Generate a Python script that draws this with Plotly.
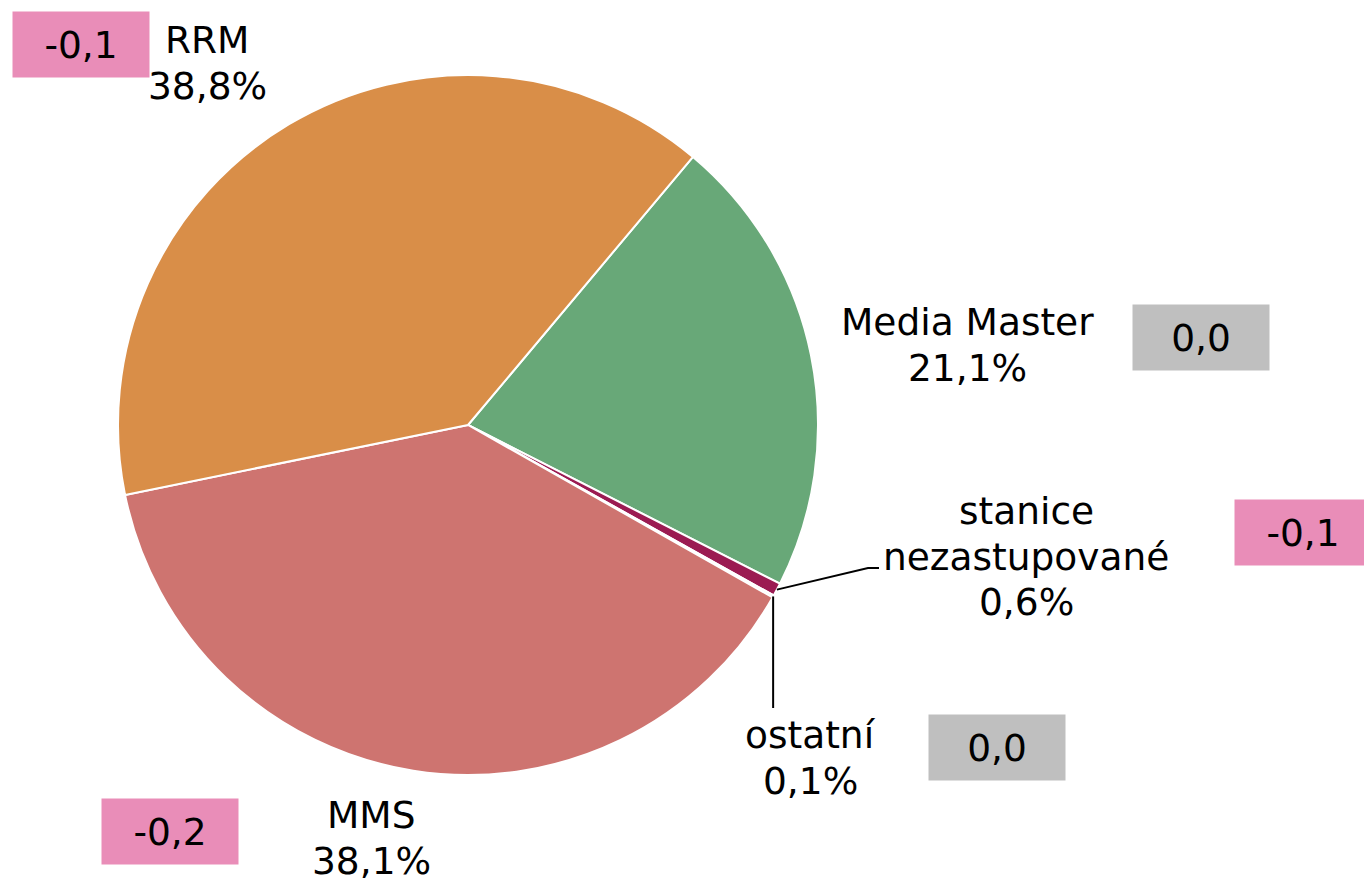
import math
import plotly.graph_objects as go

W, H = 1364, 879

# ---- data ----
labels = ["Media Master", "stanice<br>nezastupované", "ostatní", "MMS", "RRM"]
values = [21.1, 0.6, 0.1, 38.1, 38.8]
pct_text = ["21,1%", "0,6%", "0,1%", "38,1%", "38,8%"]
changes = ["0,0", "-0,1", "0,0", "-0,2", "-0,1"]
colors = ["#68A878", "#9B1B52", "#E6E6E6", "#CE7470", "#D98E48"]
change_colors = ["#BFBFBF", "#E98DB8", "#BFBFBF", "#E98DB8", "#E98DB8"]

FONT = "DejaVu Sans, Verdana, sans-serif"
FSIZE = 37.5

# ---- layout helpers (window pixel -> paper) ----
def px(x):
    return x / W

def py(y):
    return 1 - y / H

ROT = 40
cx, cy, R = 468, 425, 350
dom_x = [px(cx - R), px(cx + R)]
dom_y = [py(cy + R), py(cy - R)]

fig = go.Figure(go.Pie(
    labels=labels,
    values=values,
    sort=False,
    direction="clockwise",
    rotation=ROT,
    marker=dict(colors=colors, line=dict(color="white", width=2)),
    textinfo="none",
    hoverinfo="label+percent",
    domain=dict(x=dom_x, y=dom_y),
    showlegend=False,
))

# label placement: x centre and y of the first line, line spacing
label_pos = [(967, 321), (1026, 510), (810, 734), (371, 814), (207, 39)]
LINE_GAP = 45.5
box_pos = [(1201, 337.5), (1303, 532.5), (997, 747), (170, 831), (81, 44)]

annotations = []
for i in range(len(labels)):
    lx, ly = label_pos[i]
    lines = labels[i].split("<br>") + [pct_text[i]]
    for k, line in enumerate(lines):
        annotations.append(dict(
            x=px(lx), y=py(ly + k * LINE_GAP + 1), xref="paper", yref="paper",
            text=line, showarrow=False,
            font=dict(family=FONT, size=FSIZE, color="black"),
            xanchor="center", yanchor="middle",
        ))
    bx, by = box_pos[i]
    annotations.append(dict(
        x=px(bx), y=py(by), xref="paper", yref="paper",
        text=changes[i], showarrow=False,
        font=dict(family=FONT, size=FSIZE, color="black"),
        bgcolor=change_colors[i], width=136, height=65, borderpad=0,
        align="center", valign="middle", xanchor="center", yanchor="middle",
    ))

# leader lines for the small slices, starting at the slice mid-angle on the rim
total = sum(values)
cum = 0
mid_angles = []
for v in values:
    mid_angles.append(ROT + (cum + v / 2) / total * 360)
    cum += v

def rim(i):
    a = math.radians(mid_angles[i])
    return cx + R * math.sin(a), cy - R * math.cos(a)

shapes = []
sx, sy = rim(1)
shapes.append(dict(type="path", xref="paper", yref="paper",
                   path=f"M {px(sx)},{py(sy)} L {px(868)},{py(568)} L {px(879)},{py(568)}",
                   line=dict(color="black", width=2)))
ox, oy = rim(2)
shapes.append(dict(type="line", xref="paper", yref="paper",
                   x0=px(ox), y0=py(oy), x1=px(ox), y1=py(708),
                   line=dict(color="black", width=2)))

fig.update_layout(
    width=W, height=H,
    margin=dict(l=0, r=0, t=0, b=0),
    paper_bgcolor="white",
    plot_bgcolor="white",
    annotations=annotations,
    shapes=shapes,
)

# remove the browser's default page margin so the figure fills the window exactly
fig.write_html(
    "out.html",
    config={"displayModeBar": False},
    post_script="document.body.style.margin='0';document.body.style.overflow='hidden';",
)
